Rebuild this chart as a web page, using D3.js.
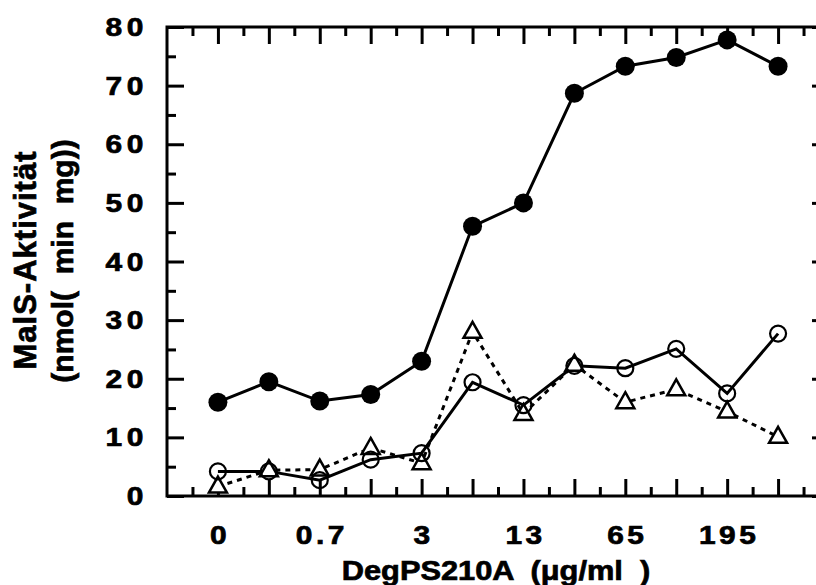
<!DOCTYPE html>
<html>
<head>
<meta charset="utf-8">
<script src="https://cdn.jsdelivr.net/npm/d3@7"></script>
<style>
  body { margin: 0; background: #fff; }
  text { font-family: "Liberation Sans", Arial, sans-serif; font-weight: bold; fill: #000; stroke: #000; stroke-width: 0.7px; }
</style>
</head>
<body>
<div id="chart"></div>
<script>
// Dose categories (only every second one carries a label)
var doseLabels = ["0", "", "0.7", "", "3", "", "13", "", "65", "", "195", ""];
var yTickValues = [0, 10, 20, 30, 40, 50, 60, 70, 80];

// MalS activity per dose
var filledVals = [16.0, 19.5, 16.2, 17.3, 23.0, 46.0, 50.0, 68.7, 73.3, 74.8, 77.8, 73.3];
var openVals   = [4.2, 4.2, 2.7, 6.2, 7.3, 19.4, 15.5, 22.2, 21.8, 25.1, 17.5, 27.7];
var triVals    = [1.6, 4.4, 4.5, 8.2, 5.6, 28.0, 14.0, 22.4, 16.0, 18.2, 14.4, 10.1];

var W = 816, H = 585;
var plot = { left: 167, top: 27, right: 829, bottom: 496 }; // right edge runs off the picture
var sx = 1.15; // text in the original is stretched sideways

var svg = d3.select("#chart")
  .append("svg")
    .attr("width", W)
    .attr("height", H);

var x = d3.scaleLinear().domain([-1, 12]).range([plot.left, plot.right]);
var y = d3.scaleLinear().domain([0, 80]).range([plot.bottom, plot.top]);

var idx = d3.range(doseLabels.length);

// Axes with inward ticks on all four sides
function styleAxis(g) {
  g.select(".domain").remove();
  g.selectAll("line").attr("stroke", "#000").attr("stroke-width", 3);
}
var xMajor = idx, xMinor = d3.range(-0.5, 12, 1);
var yMinor = d3.range(5, 80, 10);

svg.append("g").attr("transform", "translate(0," + plot.bottom + ")")
  .call(d3.axisBottom(x).tickValues(xMajor).tickSize(-17).tickFormat("")).call(styleAxis);
svg.append("g").attr("transform", "translate(0," + plot.bottom + ")")
  .call(d3.axisBottom(x).tickValues(xMinor).tickSize(-9).tickFormat("")).call(styleAxis);
svg.append("g").attr("transform", "translate(0," + plot.top + ")")
  .call(d3.axisTop(x).tickValues(xMajor).tickSize(-17).tickFormat("")).call(styleAxis);
svg.append("g").attr("transform", "translate(0," + plot.top + ")")
  .call(d3.axisTop(x).tickValues(xMinor).tickSize(-9).tickFormat("")).call(styleAxis);
svg.append("g").attr("transform", "translate(" + plot.left + ",0)")
  .call(d3.axisLeft(y).tickValues(yTickValues).tickSize(-17).tickFormat("")).call(styleAxis);
svg.append("g").attr("transform", "translate(" + plot.left + ",0)")
  .call(d3.axisLeft(y).tickValues(yMinor).tickSize(-9).tickFormat("")).call(styleAxis);
svg.append("g").attr("transform", "translate(" + plot.right + ",0)")
  .call(d3.axisRight(y).tickValues(yTickValues).tickSize(-17).tickFormat("")).call(styleAxis);
svg.append("g").attr("transform", "translate(" + plot.right + ",0)")
  .call(d3.axisRight(y).tickValues(yMinor).tickSize(-9).tickFormat("")).call(styleAxis);

// Frame
svg.append("rect")
  .attr("x", plot.left).attr("y", plot.top)
  .attr("width", plot.right - plot.left).attr("height", plot.bottom - plot.top)
  .attr("fill", "none").attr("stroke", "#000").attr("stroke-width", 3);

// Tick labels
svg.selectAll(".xlab")
  .data(idx.filter(function (i) { return doseLabels[i] !== ""; }))
  .enter().append("text")
    .attr("class", "xlab")
    .attr("transform", function (i) { return "translate(" + (x(i) + 2) + ",544) scale(" + sx + ",1)"; })
    .attr("text-anchor", "middle")
    .style("font-size", "26px")
    .style("letter-spacing", "3px")
    .text(function (i) { return doseLabels[i]; });

svg.selectAll(".ylab")
  .data(yTickValues)
  .enter().append("text")
    .attr("class", "ylab")
    .attr("transform", function (d) { return "translate(148," + (y(d) + 9) + ") scale(" + sx + ",1)"; })
    .attr("text-anchor", "end")
    .style("font-size", "26px")
    .style("letter-spacing", "4px")
    .text(function (d) { return d; });

// Axis titles
svg.append("text")
  .attr("transform", "translate(496,580) scale(1.1,1)")
  .attr("text-anchor", "middle")
  .style("font-size", "28px")
  .style("white-space", "pre")
  .text("DegPS210A  (\u03bcg/ml  )");

svg.append("text")
  .attr("transform", "translate(36,260) rotate(-90)")
  .attr("text-anchor", "middle")
  .style("font-size", "31px")
  .style("letter-spacing", "1px")
  .text("MalS-Aktivität");
svg.append("text")
  .attr("transform", "translate(73,261) rotate(-90)")
  .attr("text-anchor", "middle")
  .style("font-size", "30px")
  .style("white-space", "pre")
  .text("(nmol(  min  mg))");

// Lines
var line = d3.line().x(function (d, i) { return x(i); }).y(function (d) { return y(d); });

svg.append("path").datum(triVals)
  .attr("d", line).attr("fill", "none").attr("stroke", "#000")
  .attr("stroke-width", 3).attr("stroke-dasharray", "5,5");
svg.append("path").datum(openVals)
  .attr("d", line).attr("fill", "none").attr("stroke", "#000").attr("stroke-width", 3);
svg.append("path").datum(filledVals)
  .attr("d", line).attr("fill", "none").attr("stroke", "#000").attr("stroke-width", 3);

// Markers
svg.selectAll(".tri")
  .data(triVals)
  .enter().append("path")
    .attr("class", "tri")
    .attr("d", "M0,-10L9,6L-9,6Z")
    .attr("transform", function (d, i) { return "translate(" + x(i) + "," + y(d) + ")"; })
    .attr("fill", "#fff").attr("stroke", "#000").attr("stroke-width", 2.5);

svg.selectAll(".open")
  .data(openVals)
  .enter().append("circle")
    .attr("class", "open")
    .attr("cx", function (d, i) { return x(i); })
    .attr("cy", function (d) { return y(d); })
    .attr("r", 8)
    .attr("fill", "none").attr("stroke", "#000").attr("stroke-width", 2.2);

svg.selectAll(".filled")
  .data(filledVals)
  .enter().append("circle")
    .attr("class", "filled")
    .attr("cx", function (d, i) { return x(i); })
    .attr("cy", function (d) { return y(d); })
    .attr("r", 9.5)
    .attr("fill", "#000");
</script>
</body>
</html>
